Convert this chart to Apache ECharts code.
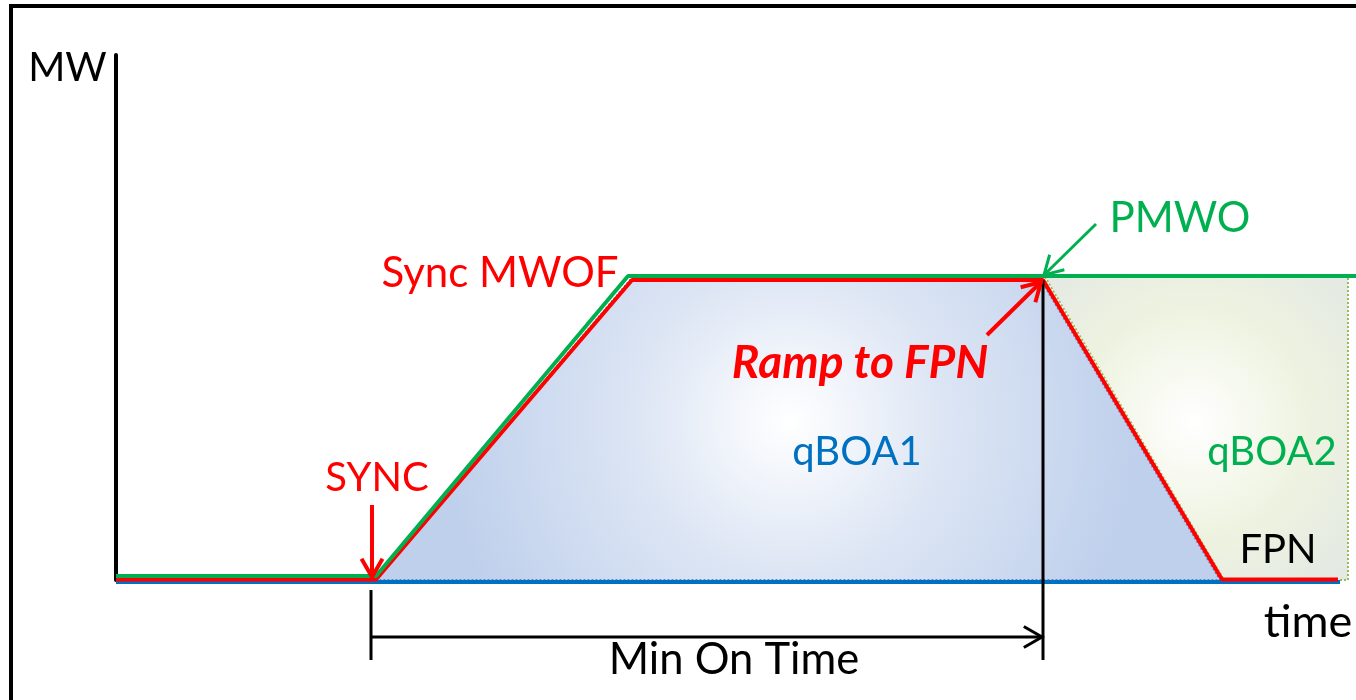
<!DOCTYPE html>
<html>
<head>
<meta charset="utf-8">
<script src="https://cdn.jsdelivr.net/npm/echarts@6/dist/echarts.min.js"></script>
<style>
html, body { margin: 0; padding: 0; background: #fff; }
#chart { width: 1356px; height: 700px; }
</style>
</head>
<body>
<div id="chart"></div>
<script>
// x = time units, y = MW units
const greenLine = [[0, 0.8], [26, 0.8], [51.2, 60.8], [124, 60.8]];
const redLine = [[0, 0.1], [26, 0.1], [51.6, 60], [92.7, 60], [110.6, 0.1], [122.2, 0.1]];
const blueLine = [[0, -0.4], [122.4, -0.4]];
const qboa1Area = [[26, 0], [51.4, 60], [92.5, 60], [110.4, 0]];
const qboa2Area = [[92.9, 60.6], [123.2, 60.6], [123.2, 0], [110.8, 0]];

// arrows: start, tip
const arrowFrom = [[25.6, 15], [87.1, 49], [98, 71.2], [25.5, -11.4]];
const arrowTo = [[25.6, 0.6], [92.5, 59.6], [92.8, 61], [92.6, -11.4]];
const arrowKind = ['red', 'red', 'green', 'black'];

// plain guide lines (Min On Time ends)
const guideFrom = [[25.5, -2], [92.7, 60]];
const guideTo = [[25.5, -16], [92.7, -16]];

const labelText = ['MW', 'Sync MWOF', 'SYNC', 'qBOA1', 'Ramp to FPN', 'PMWO', 'qBOA2', 'FPN', 'time', 'Min On Time'];
const labelAt = [[-4.85, 102.4], [38.4, 61.4], [26.1, 20.4], [74.1, 25.6], [74.4, 43.4], [106.4, 72.4], [115.6, 25.6], [116.2, 6], [119.2, -8.4], [61.8, -16]];
const labelKind = ['black', 'red', 'red', 'blue', 'ramp', 'green', 'green', 'black', 'black', 'black'];
const labelSize = [40, 42, 40, 40, 46, 42, 40, 40, 45, 43.5];

const GREEN = '#00B050', RED = '#FF0000', BLUE = '#0070C0';
const FONT = 'Lato';
const textStyles = {
  black: { fill: '#000', font: '' },
  red: { fill: RED, font: '' },
  green: { fill: GREEN, font: '' },
  blue: { fill: BLUE, font: '' },
  ramp: { fill: RED, font: 'italic bold ' }
};
const arrowStyles = {
  red: { stroke: RED, lineWidth: 4 },
  green: { stroke: GREEN, lineWidth: 3 },
  black: { stroke: '#000', lineWidth: 3 }
};

const chart = echarts.init(document.getElementById('chart'));

function areaRender(points, fill, stroke) {
  return function (params, api) {
    return {
      type: 'polygon',
      shape: { points: points.map(p => api.coord(p)) },
      style: { fill: fill, stroke: stroke, lineWidth: 2, lineDash: [2, 2] }
    };
  };
}

function arrowHead(p1, p2, len) {
  const a = Math.atan2(p2[1] - p1[1], p2[0] - p1[0]);
  const s = Math.PI / 6;
  return [
    [p2[0] - len * Math.cos(a - s), p2[1] - len * Math.sin(a - s)],
    p2,
    [p2[0] - len * Math.cos(a + s), p2[1] - len * Math.sin(a + s)]
  ];
}

const option = {
  animation: false,
  grid: { left: 116, right: 0, top: 55, bottom: 120 },
  xAxis: { type: 'value', min: 0, max: 124, show: false },
  yAxis: {
    type: 'value', min: 0, max: 105,
    axisLine: { show: true, lineStyle: { color: '#000', width: 4 } },
    axisTick: { show: false }, axisLabel: { show: false }, splitLine: { show: false }
  },
  graphic: [{
    type: 'rect', shape: { x: 11, y: 6, width: 1400, height: 800 },
    style: { fill: 'none', stroke: '#000', lineWidth: 4 }, z: 100
  }],
  series: [
    {
      type: 'custom', z: 1, data: [0],
      renderItem: areaRender(qboa1Area, new echarts.graphic.RadialGradient(0.49, 0.47, 1.15, [
        { offset: 0, color: '#FFFFFF' },
        { offset: 0.45, color: '#DCE5F4' },
        { offset: 1, color: '#BFD0EC' }
      ]), '#5B8BD0')
    },
    {
      type: 'custom', z: 1, data: [0],
      renderItem: areaRender(qboa2Area, new echarts.graphic.RadialGradient(0.49, 0.48, 0.75, [
        { offset: 0, color: '#FFFFFF' },
        { offset: 0.5, color: '#EEF3E0' },
        { offset: 1, color: '#E1E7E4' }
      ]), '#9BBB59')
    },
    { type: 'line', z: 3, data: blueLine, symbol: 'none', clip: false, lineStyle: { color: BLUE, width: 4 } },
    { type: 'line', z: 4, data: redLine, symbol: 'none', clip: false, lineStyle: { color: RED, width: 4 } },
    { type: 'line', z: 5, data: greenLine, symbol: 'none', clip: false, lineStyle: { color: GREEN, width: 4 } },
    {
      type: 'custom', z: 6, data: guideFrom.map((p, i) => i),
      renderItem: function (params, api) {
        const i = params.dataIndex;
        const a = api.coord(guideFrom[i]), b = api.coord(guideTo[i]);
        return { type: 'line', shape: { x1: a[0], y1: a[1], x2: b[0], y2: b[1] }, style: { stroke: '#000', lineWidth: 3 } };
      }
    },
    {
      type: 'custom', z: 7, data: arrowFrom.map((p, i) => i),
      renderItem: function (params, api) {
        const i = params.dataIndex;
        const a = api.coord(arrowFrom[i]), b = api.coord(arrowTo[i]);
        const st = arrowStyles[arrowKind[i]];
        return {
          type: 'group',
          children: [
            { type: 'line', shape: { x1: a[0], y1: a[1], x2: b[0], y2: b[1] }, style: { stroke: st.stroke, lineWidth: st.lineWidth } },
            { type: 'polyline', shape: { points: arrowHead(a, b, 21) }, style: { stroke: st.stroke, lineWidth: st.lineWidth, fill: 'none' } }
          ]
        };
      }
    },
    {
      type: 'custom', z: 8, data: labelText.map((t, i) => i),
      renderItem: function (params, api) {
        const i = params.dataIndex;
        const p = api.coord(labelAt[i]);
        const st = textStyles[labelKind[i]];
        return {
          type: 'text',
          style: {
            text: labelText[i], x: p[0], y: p[1], fill: st.fill,
            font: st.font + labelSize[i] + 'px ' + FONT,
            align: 'center', verticalAlign: 'middle'
          }
        };
      }
    }
  ]
};
chart.setOption(option);
</script>
</body>
</html>
